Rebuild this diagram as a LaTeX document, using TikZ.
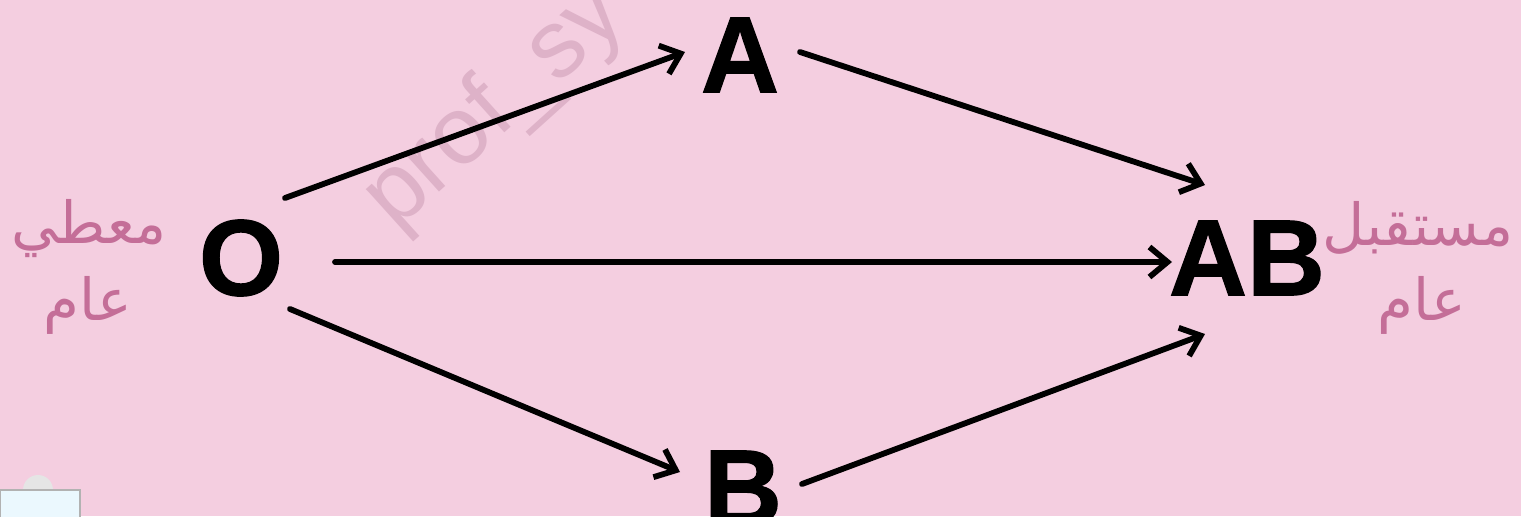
\documentclass[tikz,border=0pt]{standalone}
\usepackage{fontspec}
\setmainfont{Liberation Sans}[BoldFeatures={FakeBold=1.2}]
\newfontfamily\arabicfont[Script=Arabic]{DejaVu Sans}
\TeXXeTstate=1
\usetikzlibrary{arrows.meta,calc}
\definecolor{bgpink}{RGB}{244,206,224}
\definecolor{labpink}{RGB}{196,110,152}
\definecolor{wmpink}{RGB}{222,178,200}
\begin{document}
\begin{tikzpicture}[x=0.5pt,y=-0.5pt,
  letter/.style={font=\fontsize{54}{60}\selectfont\bfseries, inner sep=0pt, text=black},
  lab/.style={font=\arabicfont\fontsize{29}{33}\selectfont, text=labpink, inner sep=0pt, anchor=base},
  arr/.style={line width=2.9pt, -{Straight Barb[length=9pt,width=15pt]}, line cap=round, line join=round},
  wm/.style={font=\fontsize{48}{52}\selectfont, text=wmpink, inner sep=0pt, rotate=42, anchor=base west}]
\useasboundingbox (0,0) rectangle (1521,516);
\fill[bgpink] (0,0) rectangle (1521,516);
\clip (0,0) rectangle (1521,516);
% watermark
\node[wm] (wmark) at (395,232) {prof\_sy};
% small icon bottom left
\fill[white!80!gray] (38,490) circle (15);
\fill[cyan!8, draw=gray!60, line width=1pt] (0,490) rectangle (80,530);
% nodes
\node[letter] (O) at (241,258) {O};
\node[letter] (A) at (740,55) {A};
\node[letter] (B) at (743,488) {B};
\node[letter] (AB) at (1247,258) {AB};
% labels
\node[lab] (give1) at (89,243) {\beginR معطي\endR};
\node[lab] (give2) at (88,320) {\beginR عام\endR};
\node[lab, anchor=base west] (recv1) at (1322,245) {\beginR مستقبل\endR};
\node[lab] (recv2) at (1422,320) {\beginR عام\endR};
% connectors
\draw[arr] ($(O)+(44,-60)$) -- ($(A)+(-55,-3)$);
\draw[arr] ($(A)+(60,-3)$) -- ($(AB)+(-42,-73)$);
\draw[arr] ($(O)+(94,4)$) -- ($(AB)+(-75,4)$);
\draw[arr] ($(O)+(49,51)$) -- ($(B)+(-63,-16)$);
\draw[arr] ($(B)+(59,-4)$) -- ($(AB)+(-42,76)$);
\end{tikzpicture}
\end{document}
